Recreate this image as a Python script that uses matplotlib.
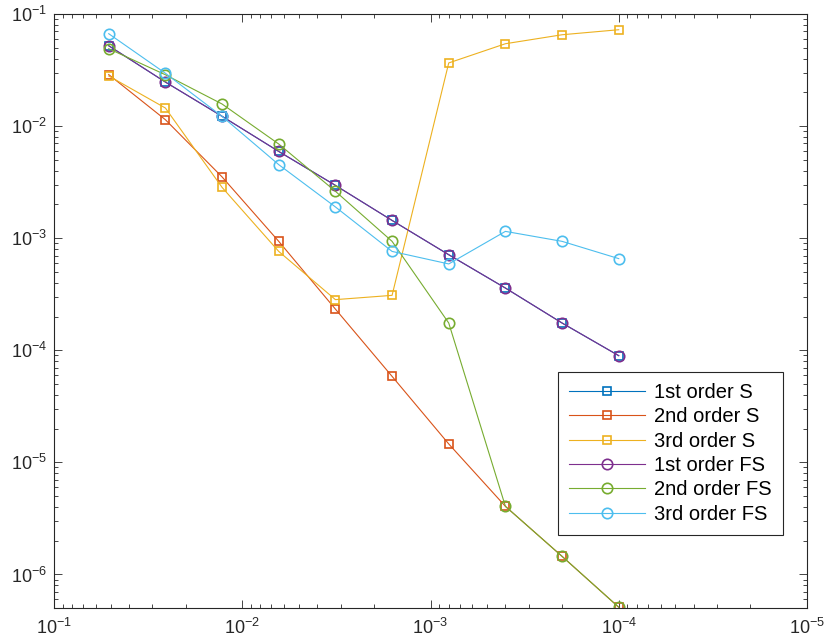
import matplotlib
matplotlib.use("Agg")
import matplotlib.pyplot as plt

# step sizes, halved each time
h = [0.0512, 0.0256, 0.0128, 0.0064, 0.0032, 0.0016, 0.0008, 0.0004, 0.0002, 0.0001]

err_1st_S = [0.0521, 0.0247, 0.01223, 0.00594, 0.00296, 0.00144, 7.12e-4, 3.59e-4, 1.75e-4, 8.95e-5]
err_2nd_S = [0.0288, 0.0114, 0.00352, 9.37e-4, 2.33e-4, 5.85e-5, 1.46e-5, 4.05e-6, 1.45e-6, 5.1e-7]
err_3rd_S = [0.0280, 0.01449, 0.00284, 7.62e-4, 2.83e-4, 3.09e-4, 0.0366, 0.0543, 0.0653, 0.0724]
err_1st_FS = [0.0521, 0.0247, 0.01223, 0.00594, 0.00296, 0.00144, 7.12e-4, 3.59e-4, 1.75e-4, 8.95e-5]
err_2nd_FS = [0.049, 0.0287, 0.01574, 0.00692, 0.00262, 9.37e-4, 1.75e-4, 4.05e-6, 1.45e-6, 5.1e-7]
err_3rd_FS = [0.0667, 0.0296, 0.0122, 0.00453, 0.0019, 7.62e-4, 5.89e-4, 1.15e-3, 9.37e-4, 6.57e-4]

labels = ["1st order S", "2nd order S", "3rd order S",
          "1st order FS", "2nd order FS", "3rd order FS"]
colors = ["#0072BD", "#D95319", "#EDB120", "#7E2F8E", "#77AC30", "#4DBEEE"]

plt.rcParams['font.family'] = ['Liberation Sans', 'DejaVu Sans']
plt.rcParams['mathtext.default'] = 'regular'

fig = plt.figure(figsize=(8.24, 6.43), dpi=100)
ax = fig.add_axes([54/824, 1-608/643, (807-54)/824, (608-14)/643])

series = [err_1st_S, err_2nd_S, err_3rd_S, err_1st_FS, err_2nd_FS, err_3rd_FS]
for i, (ys, lab, c) in enumerate(zip(series, labels, colors)):
    mk = 's' if i < 3 else 'o'
    ms = 6 if i < 3 else 7.5
    ax.loglog(h, ys, marker=mk, color=c, label=lab, lw=0.8,
              markersize=ms, markerfacecolor='none', markeredgewidth=1.2)

ax.set_xlim(1e-1, 1e-5)
ax.set_ylim(5.02e-7, 1e-1)

ax.tick_params(which='both', direction='in', top=True, right=True,
               labelsize=13, colors='#262626', width=0.6)
ax.tick_params(which='major', length=5.5, pad=7)
ax.tick_params(which='minor', length=3)
ax.tick_params(axis='y', pad=5)
for sp in ax.spines.values():
    sp.set_color('#262626')
    sp.set_linewidth(0.8)

leg = ax.legend(loc='lower right', bbox_to_anchor=(0.968, 0.123),
                borderaxespad=0, fontsize=14.5, handlelength=3.8,
                handletextpad=0.45, labelspacing=0.27, numpoints=1,
                fancybox=False, framealpha=1, edgecolor='#262626',
                borderpad=0.55)
leg.get_frame().set_linewidth(0.8)

fig.savefig("out.png", dpi=100)
